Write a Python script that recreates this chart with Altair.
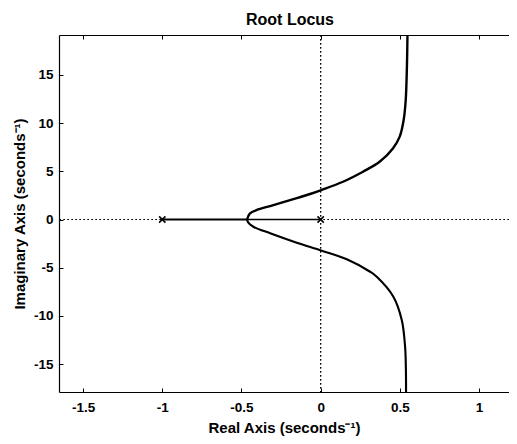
import altair as alt
import pandas as pd

# ---- values ----
x_ticks = [-1.5, -1, -0.5, 0, 0.5, 1]
y_ticks = [-15, -10, -5, 0, 5, 10, 15]
x_domain = [-1.652, 1.189]
y_domain = [-17.9, 19.15]

upper_re = [-0.464, -0.458, -0.446, -0.403, -0.319, -0.193, -0.067, 0.004, 0.141,
            0.267, 0.372, 0.456, 0.499, 0.524, 0.537, 0.545, 0.548]
upper_im = [0.0, 0.30, 0.64, 0.99, 1.40, 2.02, 2.65, 3.06, 3.92,
            4.96, 5.99, 7.37, 8.60, 10.33, 12.4, 16.2, 19.15]

lower_re = [-0.464, -0.458, -0.425, -0.319, -0.151, 0.007, 0.165, 0.312, 0.354,
            0.459, 0.512, 0.533, 0.538, 0.539]
lower_im = [0.0, -0.30, -0.75, -1.43, -2.41, -3.24, -4.13, -5.42, -5.94,
            -8.01, -10.43, -13.2, -15.5, -17.9]

real_a_re = [-1.0, -0.464]
real_a_im = [0.0, 0.0]
real_b_re = [0.0, -0.464]
real_b_im = [0.0, 0.0]

pole_re = [-1.0, 0.0]
pole_im = [0.0, 0.0]

branches = [
    ("upper", upper_re, upper_im),
    ("lower", lower_re, lower_im),
    ("real_a", real_a_re, real_a_im),
    ("real_b", real_b_re, real_b_im),
]
rows = []
for name, rr, ii in branches:
    for k, (a, b) in enumerate(zip(rr, ii)):
        rows.append({"branch": name, "i": k, "re": a, "im": b})
locus = pd.DataFrame(rows)
poles = pd.DataFrame({"re": pole_re, "im": pole_im})

FONT = "Liberation Sans"
x_scale = alt.Scale(domain=x_domain, nice=False, zero=False)
y_scale = alt.Scale(domain=y_domain, nice=False, zero=False)

lab_x = alt.Axis(orient="bottom", values=x_ticks, labelExpr="datum.value + ''",
                 ticks=False, domain=True, grid=False, labelPadding=8,
                 labelFlush=False, labelOverlap=False,
                 title="Real Axis (seconds\u207b\u00b9)", titlePadding=7)
lab_y = alt.Axis(orient="left", values=y_ticks, labelExpr="datum.value + ''",
                 ticks=False, domain=True, grid=False, labelPadding=6,
                 labelFlush=False, labelOverlap=False,
                 title="Imaginary Axis (seconds\u207b\u00b9)", titlePadding=6)

tick_x_bottom = alt.Axis(orient="bottom", values=x_ticks, labels=False, domain=False,
                         grid=False, ticks=True, tickSize=4, offset=-4, title=None)
tick_y_left = alt.Axis(orient="left", values=y_ticks, labels=False, domain=False,
                       grid=False, ticks=True, tickSize=4, offset=-4, title=None)
tick_x_top = alt.Axis(orient="top", values=x_ticks, labels=False, domain=False,
                      grid=False, ticks=True, tickSize=4, offset=-4, title=None)
frame_top = alt.Axis(orient="top", values=x_ticks, labels=False, domain=True,
                     grid=False, ticks=False, title=None)

dots = [1.5, 2.5]
h_zero = alt.Chart(poles).mark_rule(color="black", strokeWidth=1.1, strokeDash=dots).encode(
    y=alt.YDatum(0, axis=None)
)
v_zero = alt.Chart(poles).mark_rule(color="black", strokeWidth=1.1, strokeDash=dots).encode(
    x=alt.XDatum(0, axis=None)
)

lines = alt.Chart(locus).mark_line(color="black", interpolate="catmull-rom", clip=True).encode(
    x=alt.X("re:Q", scale=x_scale, axis=lab_x),
    y=alt.Y("im:Q", scale=y_scale, axis=lab_y),
    detail="branch:N",
    order="i:Q",
    strokeWidth=alt.StrokeWidth(
        "branch:N",
        scale=alt.Scale(domain=["upper", "lower", "real_a", "real_b"],
                        range=[2.4, 1.6, 2.0, 2.0]),
        legend=None,
    ),
)

pole_marks = alt.Chart(poles).mark_point(
    shape="M-1,-1L1,1M-1,1L1,-1", size=40, strokeWidth=1.6, color="black",
    filled=False, opacity=1
).encode(
    x=alt.X("re:Q", axis=tick_x_bottom),
    y=alt.Y("im:Q", axis=tick_y_left),
)

top_ticks = alt.Chart(poles).mark_point(opacity=0).encode(
    x=alt.X("re:Q", axis=tick_x_top),
    y=alt.Y("im:Q", axis=None),
)

top_frame = alt.Chart(poles).mark_point(opacity=0).encode(
    x=alt.X("re:Q", axis=frame_top),
    y=alt.Y("im:Q", axis=None),
)

chart = alt.layer(h_zero, v_zero, lines, pole_marks, top_ticks, top_frame).resolve_axis(
    x="independent", y="independent"
).properties(
    width=450,
    height=357,
    padding={"left": 51, "top": 27, "right": 0, "bottom": 44},
    autosize=alt.AutoSizeParams(type="none"),
    title=alt.Title("Root Locus", fontSize=16, font=FONT, fontWeight="bold",
                    color="black", anchor="middle", baseline="alphabetic",
                    offset=-6.5, dx=6),
).configure_view(
    strokeWidth=0
).configure_axis(
    labelFont=FONT, titleFont=FONT, labelFontSize=13.5, titleFontSize=15,
    labelFontWeight="bold", titleFontWeight="bold",
    labelColor="black", titleColor="black", tickColor="black", tickWidth=1,
    domainColor="black", domainWidth=1.2,
)

chart.save("out.html", embed_options={"renderer": "svg", "actions": False})
